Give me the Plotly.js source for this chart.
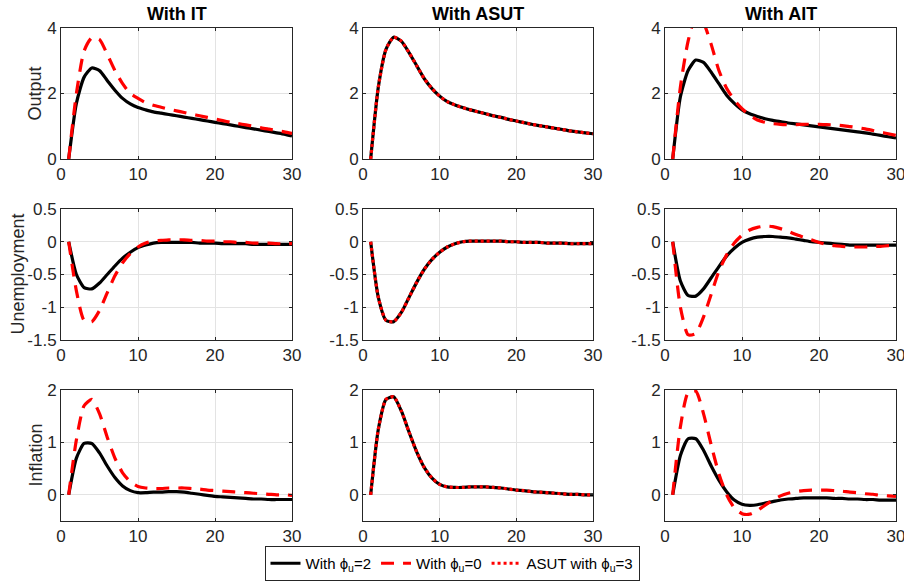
<!DOCTYPE html>
<html>
<head>
<meta charset="utf-8">
<script src="https://cdn.plot.ly/plotly-3.0.1.min.js"></script>
<style>html,body{margin:0;padding:0;background:#fff;}#chart{width:904px;height:581px;}</style>
</head>
<body>
<div id="chart"></div>
<script>
// Periods
const periods = Array.from({length: 30}, (_, i) => i + 1);

// Column titles and row labels
const columnTitles = ["With IT", "With ASUT", "With AIT"];
const rowLabels = ["Output", "Unemployment", "Inflation"];

// Output
const outIT_phi2 = [0,1.7,2.5,2.78,2.7,2.4,2.1,1.85,1.68,1.57,1.5,1.44,1.4,1.36,1.32,1.28,1.24,1.2,1.16,1.12,1.08,1.04,1.0,0.96,0.92,0.88,0.84,0.8,0.76,0.7];
const outIT_phi0 = [0,2.0,3.3,3.7,3.65,3.2,2.7,2.3,2.0,1.85,1.72,1.64,1.58,1.52,1.47,1.42,1.37,1.32,1.27,1.22,1.17,1.12,1.08,1.04,1.0,0.95,0.91,0.87,0.83,0.78];
const outASUT_phi2 = [0,2.2,3.35,3.72,3.6,3.25,2.85,2.45,2.15,1.92,1.75,1.65,1.57,1.5,1.44,1.38,1.32,1.27,1.21,1.16,1.11,1.06,1.02,0.98,0.94,0.9,0.86,0.83,0.8,0.77];
const outASUT_phi3 = [0,2.2,3.35,3.72,3.6,3.25,2.85,2.45,2.15,1.92,1.75,1.65,1.57,1.5,1.44,1.38,1.32,1.27,1.21,1.16,1.11,1.06,1.02,0.98,0.94,0.9,0.86,0.83,0.8,0.77];
const outAIT_phi2 = [0,1.9,2.7,3.02,2.95,2.65,2.3,1.95,1.7,1.5,1.38,1.3,1.23,1.18,1.14,1.1,1.07,1.04,1.01,0.98,0.95,0.92,0.89,0.86,0.83,0.8,0.76,0.72,0.68,0.64];
const outAIT_phi0 = [0,2.2,3.6,4.35,4.15,3.5,2.7,2.16,1.8,1.54,1.34,1.19,1.12,1.08,1.06,1.05,1.05,1.06,1.06,1.06,1.05,1.04,1.02,0.99,0.96,0.92,0.87,0.82,0.77,0.72];

// Unemployment
const unIT_phi2 = [0,-0.5,-0.7,-0.72,-0.63,-0.5,-0.37,-0.25,-0.16,-0.09,-0.05,-0.02,-0.01,-0.01,-0.01,-0.01,-0.01,-0.02,-0.02,-0.02,-0.03,-0.03,-0.03,-0.03,-0.04,-0.04,-0.04,-0.04,-0.04,-0.04];
const unIT_phi0 = [0,-0.75,-1.2,-1.22,-1.05,-0.78,-0.52,-0.32,-0.18,-0.08,-0.02,0.01,0.02,0.03,0.03,0.03,0.02,0.02,0.01,0.01,0.0,0.0,-0.01,-0.01,-0.02,-0.02,-0.02,-0.03,-0.03,-0.03];
const unASUT_phi2 = [0,-0.85,-1.2,-1.22,-1.08,-0.85,-0.62,-0.42,-0.27,-0.16,-0.08,-0.03,0.0,0.01,0.01,0.01,0.01,0.01,0.0,0.0,-0.01,-0.01,-0.01,-0.02,-0.02,-0.02,-0.03,-0.03,-0.03,-0.03];
const unASUT_phi3 = [0,-0.85,-1.2,-1.22,-1.08,-0.85,-0.62,-0.42,-0.27,-0.16,-0.08,-0.03,0.0,0.01,0.01,0.01,0.01,0.01,0.0,0.0,-0.01,-0.01,-0.01,-0.02,-0.02,-0.02,-0.03,-0.03,-0.03,-0.03];
const unAIT_phi2 = [0,-0.6,-0.82,-0.83,-0.72,-0.55,-0.38,-0.22,-0.1,-0.01,0.04,0.07,0.08,0.08,0.07,0.06,0.04,0.02,0.0,-0.01,-0.02,-0.03,-0.04,-0.05,-0.05,-0.05,-0.05,-0.05,-0.05,-0.05];
const unAIT_phi0 = [0,-1.0,-1.42,-1.4,-1.15,-0.8,-0.45,-0.2,-0.02,0.1,0.18,0.22,0.24,0.23,0.2,0.16,0.11,0.07,0.03,-0.01,-0.04,-0.06,-0.07,-0.08,-0.08,-0.08,-0.07,-0.07,-0.06,-0.06];

// Inflation
const infIT_phi2 = [0,0.7,0.98,0.98,0.8,0.55,0.33,0.17,0.08,0.04,0.04,0.05,0.05,0.06,0.06,0.05,0.03,0.01,-0.01,-0.03,-0.04,-0.05,-0.06,-0.07,-0.08,-0.08,-0.09,-0.09,-0.09,-0.09];
const infIT_phi0 = [0,1.05,1.7,1.82,1.55,1.1,0.7,0.42,0.25,0.16,0.13,0.12,0.12,0.13,0.13,0.13,0.12,0.11,0.09,0.08,0.07,0.06,0.05,0.04,0.03,0.02,0.01,0.0,0.0,-0.01];
const infASUT_phi2 = [0,1.25,1.82,1.87,1.6,1.2,0.82,0.52,0.32,0.2,0.15,0.14,0.14,0.15,0.15,0.15,0.14,0.13,0.11,0.09,0.08,0.06,0.05,0.04,0.03,0.02,0.01,0.01,0.0,0.0];
const infASUT_phi3 = [0,1.25,1.82,1.87,1.6,1.2,0.82,0.52,0.32,0.2,0.15,0.14,0.14,0.15,0.15,0.15,0.14,0.13,0.11,0.09,0.08,0.06,0.05,0.04,0.03,0.02,0.01,0.01,0.0,0.0];
const infAIT_phi2 = [0,0.75,1.07,1.07,0.85,0.55,0.28,0.06,-0.1,-0.18,-0.2,-0.19,-0.16,-0.13,-0.1,-0.08,-0.07,-0.06,-0.06,-0.06,-0.06,-0.07,-0.07,-0.08,-0.08,-0.09,-0.09,-0.1,-0.1,-0.1];
const infAIT_phi0 = [0,1.3,1.95,1.98,1.55,0.95,0.4,0.0,-0.25,-0.36,-0.37,-0.3,-0.2,-0.1,-0.02,0.03,0.06,0.08,0.09,0.09,0.09,0.08,0.07,0.05,0.04,0.02,0.01,-0.01,-0.02,-0.03];

// Axis ranges / ticks per row
const yRanges = [[0,4],[-1.5,0.5],[-0.5,2]];
const yTicks = [[0,2,4],[-1.5,-1,-0.5,0,0.5],[0,1,2]];
const yTickText = [["0","2","4"],["-1.5","-1","-0.5","0","0.5"],["0","1","2"]];
const xTicks = [0,10,20,30];

const legendNames = ["With &#981;<sub>u</sub>=2", "With &#981;<sub>u</sub>=0", "ASUT with &#981;<sub>u</sub>=3"];

const panels = [
  [{b: outIT_phi2, r: outIT_phi0, s: "dash"}, {b: outASUT_phi2, r: outASUT_phi3, s: "dot"}, {b: outAIT_phi2, r: outAIT_phi0, s: "dash"}],
  [{b: unIT_phi2, r: unIT_phi0, s: "dash"}, {b: unASUT_phi2, r: unASUT_phi3, s: "dot"}, {b: unAIT_phi2, r: unAIT_phi0, s: "dash"}],
  [{b: infIT_phi2, r: infIT_phi0, s: "dash"}, {b: infASUT_phi2, r: infASUT_phi3, s: "dot"}, {b: infAIT_phi2, r: infAIT_phi0, s: "dash"}]
];

const W = 904, H = 581;
const colPx = [[61,292],[363,593],[665,896]];
const rowPx = [[28,159],[209,340],[390,521]];
const rowLabelX = [35, 17, 35];
const FONT = "Liberation Sans, Arial, sans-serif";

const traces = [];
const layout = {
  width: W, height: H,
  margin: {l:0, r:0, t:0, b:0},
  paper_bgcolor: "#fff", plot_bgcolor: "#fff",
  font: {family: FONT, size: 16, color: "#262626"},
  showlegend: true,
  legend: {
    orientation: "h", x: 0.5, xanchor: "center", y: 0.0, yanchor: "bottom",
    bordercolor: "#262626", borderwidth: 1, bgcolor: "#fff",
    font: {size: 15, color: "#000", family: FONT}, tracegroupgap: 0
  },
  annotations: []
};

let legendShown = {solid:false, dash:false, dot:false};
let idx = 0;
for (let r = 0; r < 3; r++) {
  for (let c = 0; c < 3; c++) {
    idx++;
    const xa = "x" + (idx === 1 ? "" : idx);
    const ya = "y" + (idx === 1 ? "" : idx);
    const p = panels[r][c];
    traces.push({
      x: periods, y: p.b, xaxis: xa, yaxis: ya, mode: "lines",
      line: {color: "#000", width: 3.2, shape: "spline", smoothing: 0.6}, name: legendNames[0],
      showlegend: !legendShown.solid, legendrank: 1, hoverinfo: "skip"
    });
    legendShown.solid = true;
    if (p.s === "dash") {
      traces.push({
        x: periods, y: p.r, xaxis: xa, yaxis: ya, mode: "lines",
        line: {color: "#ff0000", width: 3.2, dash: "13px,9px", shape: "spline", smoothing: 0.6}, name: legendNames[1],
        showlegend: !legendShown.dash, legendrank: 2, hoverinfo: "skip"
      });
      legendShown.dash = true;
    } else {
      traces.push({
        x: periods, y: p.r, xaxis: xa, yaxis: ya, mode: "lines",
        line: {color: "#ff0000", width: 3.2, dash: "3px,3px", shape: "spline", smoothing: 0.6}, name: legendNames[2],
        showlegend: !legendShown.dot, legendrank: 3, hoverinfo: "skip"
      });
      legendShown.dot = true;
    }
    const axCommon = {
      showline: true, linecolor: "#262626", linewidth: 1, mirror: "ticks",
      ticks: "inside", ticklen: 3, tickcolor: "#262626", tickwidth: 1,
      showgrid: true, gridcolor: "#e3e3e3", gridwidth: 1, zeroline: false,
      tickfont: {size: 17, color: "#262626", family: FONT},
      ticklabeloverflow: "allow",
      fixedrange: true
    };
    layout["xaxis" + (idx === 1 ? "" : idx)] = Object.assign({}, axCommon, {
      domain: [colPx[c][0]/W, colPx[c][1]/W], range: [0, 30],
      tickvals: xTicks, ticktext: xTicks.map(String), anchor: ya
    });
    layout["yaxis" + (idx === 1 ? "" : idx)] = Object.assign({}, axCommon, {
      domain: [1 - rowPx[r][1]/H, 1 - rowPx[r][0]/H], range: yRanges[r],
      tickvals: yTicks[r], ticktext: yTickText[r], anchor: xa
    });
  }
}

for (let c = 0; c < 3; c++) {
  layout.annotations.push({
    text: "<b>" + columnTitles[c] + "</b>", xref: "paper", yref: "paper",
    x: (colPx[c][0] + colPx[c][1]) / 2 / W, y: 1 - 14/H, xanchor: "center", yanchor: "middle",
    showarrow: false, font: {size: 18, color: "#000", family: FONT}
  });
}
for (let r = 0; r < 3; r++) {
  layout.annotations.push({
    text: rowLabels[r], xref: "paper", yref: "paper",
    x: rowLabelX[r]/W, y: 1 - (rowPx[r][0] + rowPx[r][1]) / 2 / H, xanchor: "center", yanchor: "middle",
    textangle: -90, showarrow: false, font: {size: 18, color: "#262626", family: FONT}
  });
}

Plotly.newPlot("chart", traces, layout, {staticPlot: true, displayModeBar: false});
</script>
</body>
</html>
